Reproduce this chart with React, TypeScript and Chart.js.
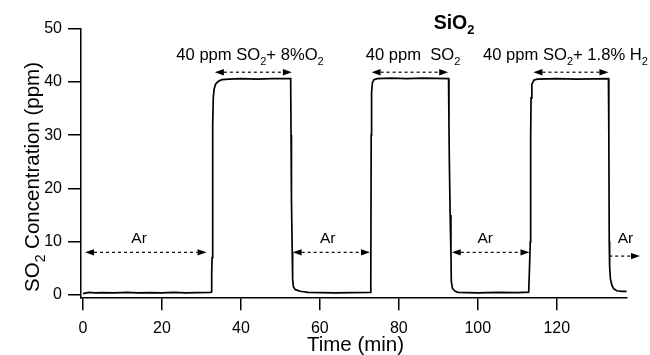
import React, { useEffect, useRef } from "react";
import { Chart, registerables } from "chart.js";

Chart.register(...registerables);

// ---- data ----
const time = [
  0, 1.5, 3, 5, 8, 11, 14, 17, 20, 23, 26, 29, 32.3,
  32.5, 32.6, 32.7, 32.8, 32.9, 33.0, 33.2, 33.6, 34.3, 35.2, 37, 40, 44, 48, 52.6,
  52.7, 52.8, 53.0, 53.1, 53.3, 53.8, 55, 57, 60, 64, 68, 72.8,
  72.9, 73.0, 73.1, 73.3, 73.7, 74.5, 78, 82, 86, 92.6,
  92.7, 92.8, 93.0, 93.2, 93.3, 93.6, 94.3, 95, 100, 105, 110, 112.9,
  113.1, 113.3, 113.4, 113.5, 113.7, 114.2, 115, 120, 125, 133.1,
  133.2, 133.3, 133.4, 133.6, 134.0, 134.4, 135.2, 136.5, 137.7,
];
const conc = [
  0.25, 0.5, 0.4, 0.45, 0.4, 0.5, 0.4, 0.45, 0.4, 0.5, 0.4, 0.45, 0.5,
  0.6, 4, 7, 20, 32, 37, 38.6, 39.6, 40.1, 40.4, 40.5, 40.6, 40.5, 40.6, 40.6,
  30, 18, 8, 3, 1.5, 1.0, 0.7, 0.5, 0.45, 0.4, 0.45, 0.5,
  2, 30, 38, 39.8, 40.4, 40.6, 40.7, 40.6, 40.7, 40.6,
  32, 25, 15, 8, 2.5, 1.2, 0.7, 0.5, 0.4, 0.5, 0.45, 0.55,
  5, 10, 30, 37, 39.5, 40.3, 40.5, 40.6, 40.5, 40.6,
  30, 10, 5.3, 3, 1.8, 1.2, 0.8, 0.7, 0.7,
];
const xTicks = [0, 20, 40, 60, 80, 100, 120];
const yTicks = [0, 10, 20, 30, 40, 50];

// annotation positions (data units)
const arArrowStart = [0.5, 53.1, 93.4];
const arArrowEnd = [31.3, 72.7, 113.1];
const arArrowY = 8.0;
const arLastStart = 133.3;
const arLastEnd = 141.1;
const arLastY = 7.3;
const arLabelX = [14.2, 62, 101.9, 137.4];
const arLabelY = 10.8;

const gasArrowStart = [33.4, 73.1, 114.1];
const gasArrowEnd = [52.9, 92.5, 133.1];
const gasArrowY = 41.8;
const gasLabelX = [42.3, 83.6, 122.2];
const gasLabelY = 44.1;
const gasLabels: [string, boolean][][] = [
  [["40 ppm SO", false], ["2", true], ["+ 8%O", false], ["2", true]],
  [["40 ppm  SO", false], ["2", true]],
  [["40 ppm SO", false], ["2", true], ["+ 1.8% H", false], ["2", true]],
];
const titleSegs: [string, boolean][] = [["SiO", false], ["2", true]];
const titleX = 94.0;
const titleY = 50.0;
const yTitleSegs: [string, boolean][] = [["SO", false], ["2", true], [" Concentration (ppm)", false]];
const xTitle = "Time (min)";

const FONT = "'Liberation Sans', Arial, Helvetica, sans-serif";

function drawRich(
  ctx: CanvasRenderingContext2D,
  segs: [string, boolean][],
  cx: number,
  y: number,
  size: number,
  bold: boolean
) {
  const w = bold ? "bold " : "";
  const subSize = Math.round(size * 0.68);
  let total = 0;
  const widths: number[] = [];
  for (const [t, sub] of segs) {
    ctx.font = `${w}${sub ? subSize : size}px ${FONT}`;
    const m = ctx.measureText(t).width;
    widths.push(m);
    total += m;
  }
  let x = cx - total / 2;
  ctx.textAlign = "left";
  ctx.textBaseline = "alphabetic";
  segs.forEach(([t, sub], i) => {
    ctx.font = `${w}${sub ? subSize : size}px ${FONT}`;
    ctx.fillText(t, x, sub ? y + size * 0.3 : y);
    x += widths[i];
  });
}

function drawArrow(
  ctx: CanvasRenderingContext2D,
  x1: number,
  x2: number,
  y: number,
  left: boolean,
  right: boolean
) {
  const hl = 9;
  const hw = 3.2;
  ctx.save();
  ctx.strokeStyle = "#000";
  ctx.fillStyle = "#000";
  ctx.lineWidth = 1.2;
  ctx.setLineDash([3, 3]);
  ctx.beginPath();
  ctx.moveTo(left ? x1 + hl : x1, y);
  ctx.lineTo(right ? x2 - hl : x2, y);
  ctx.stroke();
  ctx.setLineDash([]);
  if (left) {
    ctx.beginPath();
    ctx.moveTo(x1, y);
    ctx.lineTo(x1 + hl, y - hw);
    ctx.lineTo(x1 + hl, y + hw);
    ctx.closePath();
    ctx.fill();
  }
  if (right) {
    ctx.beginPath();
    ctx.moveTo(x2, y);
    ctx.lineTo(x2 - hl, y - hw);
    ctx.lineTo(x2 - hl, y + hw);
    ctx.closePath();
    ctx.fill();
  }
  ctx.restore();
}

const annotationPlugin = {
  id: "annots",
  afterDraw(chart: any) {
    const ctx: CanvasRenderingContext2D = chart.ctx;
    const xs = chart.scales.x;
    const ys = chart.scales.y;
    const area = chart.chartArea;
    ctx.save();
    ctx.fillStyle = "#000";
    // Ar arrows
    arArrowStart.forEach((s, i) => {
      drawArrow(ctx, xs.getPixelForValue(s), xs.getPixelForValue(arArrowEnd[i]), ys.getPixelForValue(arArrowY), true, true);
    });
    drawArrow(ctx, xs.getPixelForValue(arLastStart), xs.getPixelForValue(arLastEnd), ys.getPixelForValue(arLastY), false, true);
    arLabelX.forEach((lx) => {
      drawRich(ctx, [["Ar", false]], xs.getPixelForValue(lx), ys.getPixelForValue(arLabelY) + 5.5, 15.5, false);
    });
    // gas arrows & labels
    gasArrowStart.forEach((s, i) => {
      drawArrow(ctx, xs.getPixelForValue(s), xs.getPixelForValue(gasArrowEnd[i]), ys.getPixelForValue(gasArrowY), true, true);
      drawRich(ctx, gasLabels[i], xs.getPixelForValue(gasLabelX[i]), ys.getPixelForValue(gasLabelY), 16.6, false);
    });
    // title
    drawRich(ctx, titleSegs, xs.getPixelForValue(titleX), ys.getPixelForValue(titleY), 19.5, true);
    // x title
    drawRich(ctx, [[xTitle, false]], (area.left + area.right) / 2 + 1.5, 350.5, 20.5, false);
    // y title
    ctx.save();
    ctx.translate(38.5, 177);
    ctx.rotate(-Math.PI / 2);
    drawRich(ctx, yTitleSegs, 0, 0, 20.5, false);
    ctx.restore();
    ctx.restore();
  },
};

export default function App() {
  const ref = useRef<HTMLCanvasElement | null>(null);
  useEffect(() => {
    if (!ref.current) return;
    const points = time.map((t, i) => ({ x: t, y: conc[i] }));
    const chart = new Chart(ref.current, {
      type: "line",
      data: {
        datasets: [
          {
            data: points,
            borderColor: "#000",
            borderWidth: 1.7,
            pointRadius: 0,
            tension: 0,
            fill: false,
          },
        ],
      },
      options: {
        animation: false,
        responsive: false,
        devicePixelRatio: 1,
        layout: { padding: { left: 0, top: 28.5, right: 23, bottom: 0 } },
        plugins: { legend: { display: false }, tooltip: { enabled: false }, title: { display: false } },
        scales: {
          x: {
            type: "linear",
            min: -0.51,
            max: 137.8,
            afterFit: (s: any) => {
              s.height = 355 - 297.3 - 0;
            },
            afterBuildTicks: (s: any) => {
              s.ticks = xTicks.map((v) => ({ value: v }));
            },
            grid: { drawOnChartArea: false, drawTicks: true, tickLength: 13, color: "#000", lineWidth: 1.5 },
            border: { display: true, color: "#000", width: 1.5 },
            ticks: { color: "#000", font: { family: FONT, size: 16 }, padding: 9, maxRotation: 0, autoSkip: false },
          },
          y: {
            type: "linear",
            min: -0.43,
            max: 50,
            afterFit: (s: any) => {
              s.width = 81;
            },
            afterBuildTicks: (s: any) => {
              s.ticks = yTicks.map((v) => ({ value: v }));
            },
            grid: { drawOnChartArea: false, drawTicks: true, tickLength: 13, color: "#000", lineWidth: 1.5 },
            border: { display: true, color: "#000", width: 1.5 },
            ticks: { color: "#000", font: { family: FONT, size: 16 }, padding: 6 },
          },
        },
      },
      plugins: [annotationPlugin],
    });
    return () => chart.destroy();
  }, []);
  return (
    <div style={{ position: "absolute", left: 0, top: 0, width: 650, height: 355, background: "#fff" }}>
      <canvas ref={ref} width={650} height={355} style={{ width: 650, height: 355 }} />
    </div>
  );
}
